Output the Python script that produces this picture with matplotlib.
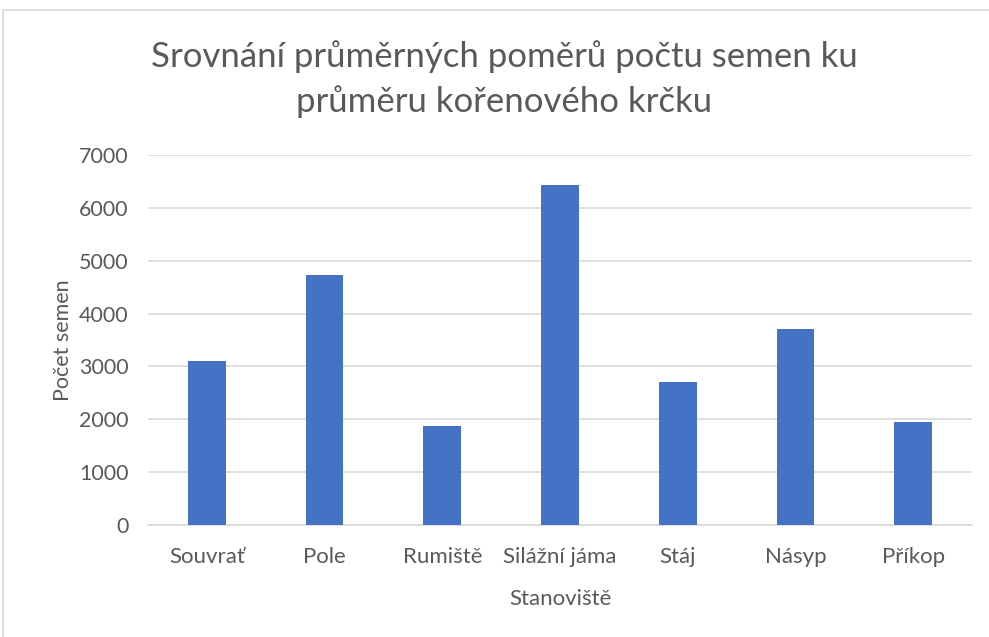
import matplotlib.pyplot as plt
from matplotlib.patches import Rectangle

# Data
categories = ['Souvrať', 'Pole', 'Rumiště', 'Silážní jáma', 'Stáj', 'Násyp', 'Příkop']
values = [3100, 4735, 1875, 6430, 2710, 3700, 1940]
yticks = [0, 1000, 2000, 3000, 4000, 5000, 6000, 7000]

title = 'Srovnání průměrných poměrů počtu semen ku\nprůměru kořenového krčku'
xlabel = 'Stanoviště'
ylabel = 'Počet semen'

text_color = '#595959'
grid_color = '#d9d9d9'
bar_color = '#4472C4'

plt.rcParams['font.family'] = ['Lato', 'DejaVu Sans']

fig = plt.figure(figsize=(9.89, 6.37), dpi=100)
ax = fig.add_axes([148 / 989, 1 - 525 / 637, (972 - 148) / 989, (525 - 155) / 637])

# Chart border (light gray frame)
fig.patches.append(Rectangle((3 / 989, -0.1), 1.1, 1 - 10 / 637 + 0.1,
                             transform=fig.transFigure, fill=False,
                             edgecolor=grid_color, linewidth=1.2))

x = range(len(categories))
ax.bar(x, values, width=0.32, color=bar_color, zorder=3)

ax.set_xlim(-0.5, len(categories) - 0.5)
ax.set_ylim(0, 7000)
ax.set_yticks(yticks)
ax.set_xticks(list(x))
ax.set_xticklabels(categories)

ax.grid(axis='y', color=grid_color, linewidth=1.2, zorder=0)
for side in ['left', 'right', 'top']:
    ax.spines[side].set_visible(False)
ax.spines['bottom'].set_color(grid_color)
ax.spines['bottom'].set_linewidth(1.2)

ax.tick_params(axis='both', length=0, colors=text_color)
ax.tick_params(axis='x', labelsize=16, pad=16)
ax.tick_params(axis='y', labelsize=15.5, pad=14)

ax.set_xlabel(xlabel, fontsize=16, color=text_color, labelpad=16)
ax.set_ylabel(ylabel, fontsize=15.5, color=text_color, labelpad=4)

fig.text(504 / 989, 1 - 79 / 637, title, ha='center', va='center',
         fontsize=25, color=text_color, linespacing=1.45)

plt.savefig('out.png', dpi=100)
plt.close()
